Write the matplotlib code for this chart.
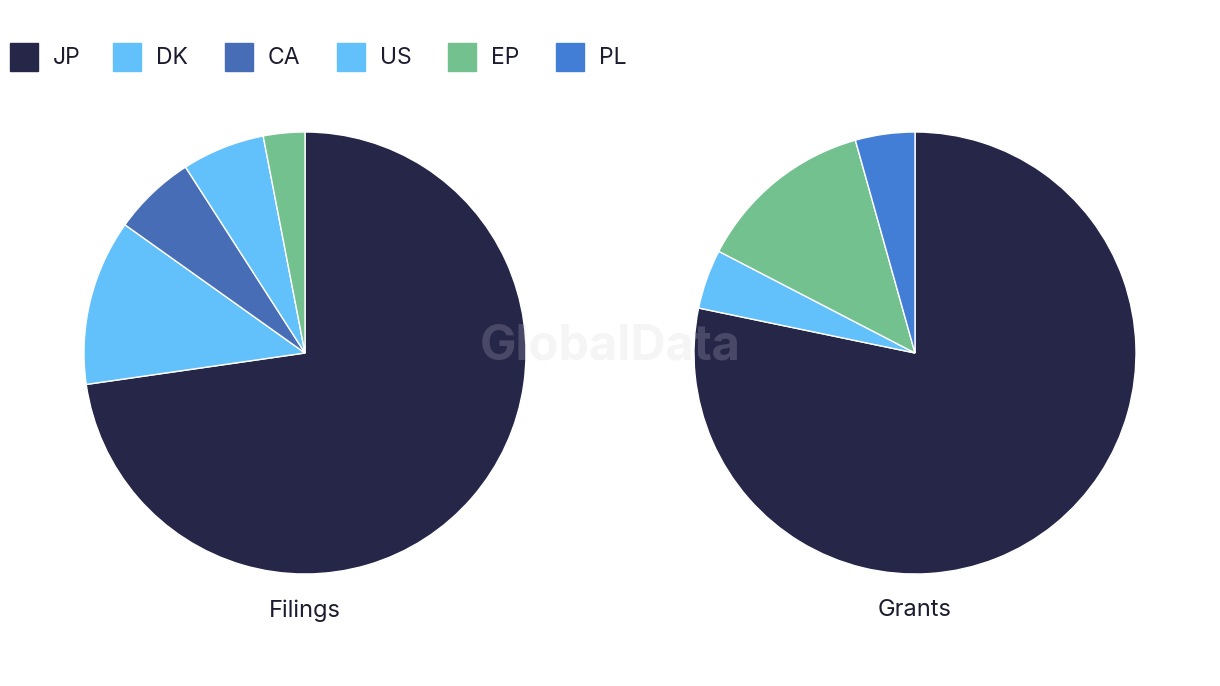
import numpy as np
import matplotlib
matplotlib.use('Agg')
import matplotlib.pyplot as plt
from matplotlib.patches import Rectangle

plt.rcParams['font.family'] = ['Inter', 'DejaVu Sans']

# legend entries and colours
legend_names = ['JP', 'DK', 'CA', 'US', 'EP', 'PL']
colors = {'JP': '#262649', 'DK': '#62c0fa', 'CA': '#466db5',
          'US': '#62c0fa', 'EP': '#72c18f', 'PL': '#437ed6'}

# filings, clockwise from the top
filing_names = ['JP', 'DK', 'CA', 'US', 'EP']
filing_counts = [24, 4, 2, 2, 1]

# grants, clockwise from the top
grant_names = ['JP', 'US', 'EP', 'PL']
grant_counts = [18, 1, 3, 1]

W, H = 1220, 686
fig = plt.figure(figsize=(W/100, H/100), dpi=100)

R = 221
def pie_axes(cx, cy):
    return fig.add_axes([(cx-R)/W, (H-cy-R)/H, 2*R/W, 2*R/H])

ax1 = pie_axes(305, 353)
ax2 = pie_axes(915, 353)

for ax, names, vals, title in [(ax1, filing_names, filing_counts, 'Filings'),
                                (ax2, grant_names, grant_counts, 'Grants')]:
    ax.pie(vals, colors=[colors[n] for n in names], startangle=90,
           counterclock=False, radius=1,
           wedgeprops=dict(edgecolor='white', linewidth=1))
    ax.set_xlim(-1, 1)
    ax.set_ylim(-1, 1)
    ax.set_aspect('equal')
    ax.axis('off')
    ax.text(0, -1.165, title, ha='center', va='center', fontsize=17,
            color='#1c1c30')

# legend across the top
x0 = [10, 113, 225, 337, 448, 556]
for x, n in zip(x0, legend_names):
    fig.patches.append(Rectangle((x/W, (H-71)/H), 28/W, 28/H,
                                 transform=fig.transFigure, color=colors[n]))
    fig.text((x+43)/W, (H-58)/H, n, ha='left', va='center', fontsize=16.5,
             color='#1c1c30')

# watermark
fig.text(610/W, (H-347)/H, 'GlobalData', ha='center', va='center',
         fontsize=35, fontweight='bold', color='#d0d0d8', alpha=0.21)

fig.savefig('out.png', dpi=100)
